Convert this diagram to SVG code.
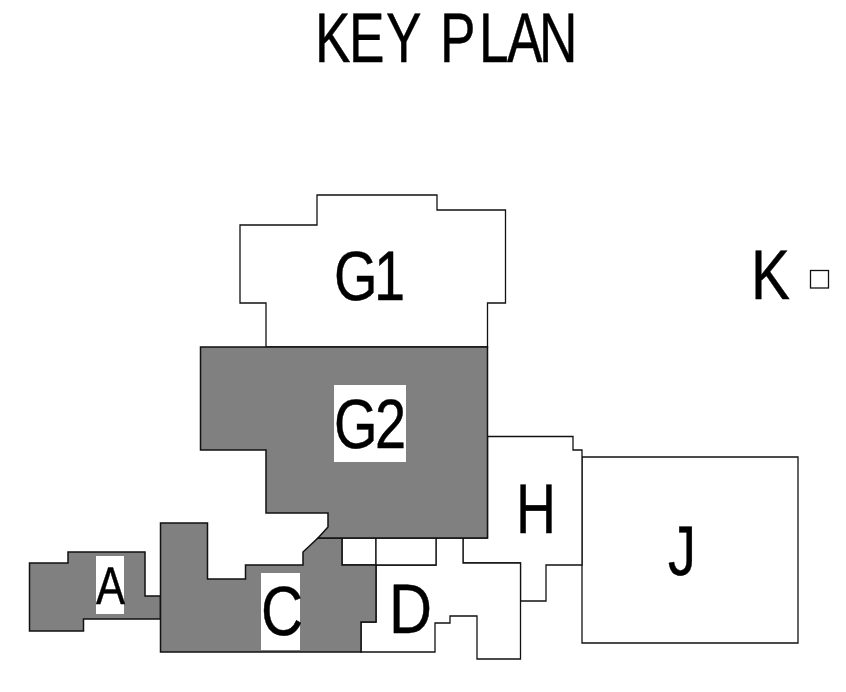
<svg xmlns="http://www.w3.org/2000/svg" width="846" height="692" viewBox="0 0 846 692">
<style>
.w{fill:#fff;stroke:#111;stroke-width:1.3;stroke-linejoin:miter}
.g{fill:#808080;stroke:#111;stroke-width:1.5;stroke-linejoin:miter}
.b{fill:#fff}
text{font-family:"Liberation Sans",Arial,sans-serif;fill:#000;stroke:#000;stroke-width:.45;text-anchor:start;text-rendering:geometricPrecision}
.l{font-size:70px}
</style>
<rect width="846" height="692" fill="#fff"/>
<text transform="scale(.76 1)" x="414.500 459.200 507.900 540 579 630.300 667.100 709.200" y="62" font-size="70">KEY PLAN</text>
<g id="node-G1"><path class="w" d="M266 347V303H240V225H317V195H437V210H505.5V303H487.5V347Z"/><text class="l" transform="scale(.8 1)" x="417.500 467.500" y="299.500">G1</text></g>
<g id="node-J"><path class="w" d="M582 457H798V643H582Z"/><text class="l" x="668" y="574.500" textLength="28" lengthAdjust="spacingAndGlyphs">J</text></g>
<g id="node-H"><path class="w" d="M487.5 436.500H573V450H582V565H546V601H520.500V563H463V538H487.500Z"/><text class="l" x="516" y="533" textLength="40" lengthAdjust="spacingAndGlyphs">H</text></g>
<g id="node-D"><path class="w" d="M376 565H436V538H463V563H520.500V659H477V616H450V623H435V652H361V622H376Z"/><text class="l" x="389" y="633" textLength="43" lengthAdjust="spacingAndGlyphs">D</text></g>
<g id="node-E"><path class="w" d="M342 538H376V565H342Z"/></g>
<g id="node-F"><path class="w" d="M376 538H436V565H376Z"/></g>
<g id="node-A"><path class="g" d="M29.500 563H68V552H145V596H160.500V619H83.500V631H29.500Z"/><rect class="b" x="96" y="556" width="28" height="58"/><text x="96" y="603.500" font-size="53" textLength="29" lengthAdjust="spacingAndGlyphs">A</text></g>
<g id="node-C"><path class="g" d="M160.500 523H207.500V579H245.500V565H303V552L318 538H342V565H376V622H361V652H160.500Z"/><rect class="b" x="261" y="573" width="39" height="77"/><text class="l" x="261" y="635" textLength="42" lengthAdjust="spacingAndGlyphs">C</text></g>
<g id="node-G2"><path class="g" d="M200.500 347H487.500V538H318L328 527V513H266V450H200.500Z"/><rect class="b" x="334" y="385" width="72" height="77"/><text class="l" transform="scale(.8 1)" x="417.500 468.750" y="447.500">G2</text></g>
<g id="node-K"><text class="l" x="751" y="299" textLength="39" lengthAdjust="spacingAndGlyphs">K</text><rect class="w" x="810.500" y="270.500" width="18" height="17.500"/></g>
<g id="connectors"></g>
</svg>
